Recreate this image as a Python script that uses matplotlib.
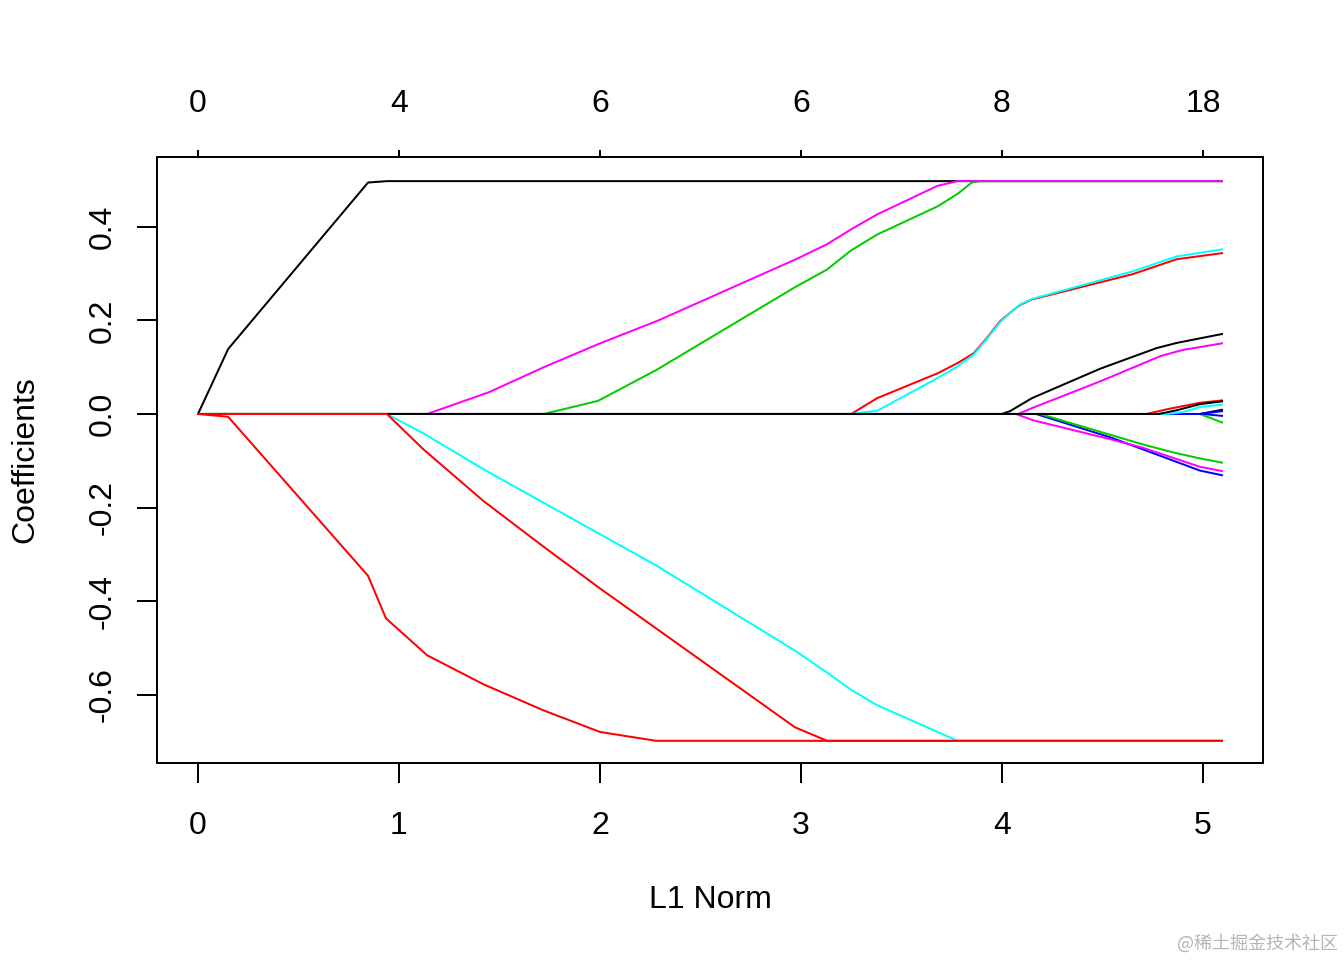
import matplotlib
matplotlib.use("Agg")
import matplotlib.pyplot as plt

plt.rcParams['font.family'] = ['Liberation Sans', 'DejaVu Sans']
plt.rcParams['axes.unicode_minus'] = False

# coefficient paths: L1 norm (x) vs coefficient (y)
black_top_x = [0, 0.15, 0.846, 0.94, 5.095]
black_top_y = [0, 0.139, 0.495, 0.498, 0.498]

red_low1_x = [0, 0.15, 0.846, 0.935, 1.14, 1.42, 1.72, 2.0, 2.28, 5.095]
red_low1_y = [0, -0.006, -0.346, -0.437, -0.516, -0.578, -0.634, -0.68, -0.699, -0.699]

green_top_x = [0, 1.72, 1.99, 2.28, 2.97, 3.13, 3.25, 3.38, 3.68, 3.78, 3.85, 3.89, 5.095]
green_top_y = [0, 0, 0.028, 0.094, 0.271, 0.309, 0.35, 0.384, 0.444, 0.471, 0.495, 0.498, 0.498]

blue_low_x = [0, 4.17, 4.54, 4.785, 4.985, 5.095]
blue_low_y = [0, 0, -0.05, -0.089, -0.121, -0.131]

cyan_low_x = [0, 0.94, 1.12, 1.42, 1.72, 2.28, 2.97, 3.13, 3.25, 3.38, 3.78, 5.095]
cyan_low_y = [0, 0, -0.041, -0.118, -0.19, -0.324, -0.506, -0.553, -0.59, -0.623, -0.699, -0.699]

magenta_top_x = [0, 1.14, 1.45, 1.72, 2.0, 2.29, 2.97, 3.13, 3.25, 3.38, 3.68, 3.78, 5.095]
magenta_top_y = [0, 0, 0.047, 0.1, 0.151, 0.2, 0.33, 0.363, 0.395, 0.427, 0.488, 0.498, 0.498]

black_mid_x = [0, 4.0, 4.04, 4.15, 4.49, 4.77, 4.87, 5.095]
black_mid_y = [0, 0, 0.006, 0.034, 0.097, 0.141, 0.152, 0.171]

red_mid_x = [0, 3.25, 3.38, 3.68, 3.78, 3.86, 3.92, 3.99, 4.05, 4.09, 4.15, 4.65, 4.87, 5.095]
red_mid_y = [0, 0, 0.034, 0.087, 0.109, 0.13, 0.16, 0.198, 0.22, 0.233, 0.245, 0.299, 0.331, 0.344]

green_low_x = [0, 4.19, 4.70, 4.85, 4.985, 5.095]
green_low_y = [0, 0, -0.065, -0.082, -0.095, -0.104]

blue_small_neg_x = [0, 5.0, 5.095]
blue_small_neg_y = [0, 0, -0.004]

cyan_mid_x = [0, 3.25, 3.38, 3.68, 3.78, 3.86, 3.92, 3.99, 4.05, 4.09, 4.15, 4.65, 4.87, 5.095]
cyan_mid_y = [0, 0, 0.007, 0.077, 0.102, 0.127, 0.158, 0.196, 0.22, 0.234, 0.246, 0.305, 0.337, 0.352]

magenta_mid_x = [0, 4.08, 4.155, 4.49, 4.79, 4.9, 5.095]
magenta_mid_y = [0, 0, 0.0135, 0.07, 0.124, 0.137, 0.151]

black_small2_x = [0, 4.985, 5.095]
black_small2_y = [0, 0, 0.009]

red_small_x = [0, 4.72, 4.82, 4.985, 5.095]
red_small_y = [0, 0, 0.01, 0.024, 0.029]

green_small_x = [0, 4.985, 5.095]
green_small_y = [0, 0, -0.018]

blue_small_pos_x = [0, 4.985, 5.095]
blue_small_pos_y = [0, 0, 0.006]

cyan_small_x = [0, 4.82, 4.9, 4.985, 5.095]
cyan_small_y = [0, 0, 0.004, 0.015, 0.02]

magenta_low_x = [0, 4.07, 4.155, 4.54, 4.70, 4.985, 5.095]
magenta_low_y = [0, 0, -0.0135, -0.054, -0.072, -0.113, -0.122]

black_small_x = [0, 4.78, 4.87, 4.985, 5.095]
black_small_y = [0, 0, 0.008, 0.021, 0.027]

red_low2_x = [0, 0.94, 1.12, 1.42, 1.72, 2.0, 2.97, 3.13, 5.095]
red_low2_y = [0, 0, -0.075, -0.186, -0.284, -0.373, -0.67, -0.699, -0.699]

# number of nonzero coefficients shown on the top axis
top_ticks = [0, 1, 2, 3, 4, 5]
top_labels = ['0', '4', '6', '6', '8', '18']
y_ticks = [-0.6, -0.4, -0.2, 0.0, 0.2, 0.4]

# R default palette, drawn in this order (later on top)
paths = [
    (black_top_x, black_top_y, 'black'),
    (red_low1_x, red_low1_y, 'red'),
    (green_top_x, green_top_y, '#00CD00'),
    (blue_low_x, blue_low_y, 'blue'),
    (cyan_low_x, cyan_low_y, 'cyan'),
    (magenta_top_x, magenta_top_y, 'magenta'),
    (black_mid_x, black_mid_y, 'black'),
    (red_mid_x, red_mid_y, 'red'),
    (green_low_x, green_low_y, '#00CD00'),
    (blue_small_neg_x, blue_small_neg_y, 'blue'),
    (cyan_mid_x, cyan_mid_y, 'cyan'),
    (magenta_mid_x, magenta_mid_y, 'magenta'),
    (black_small2_x, black_small2_y, 'black'),
    (red_small_x, red_small_y, 'red'),
    (green_small_x, green_small_y, '#00CD00'),
    (blue_small_pos_x, blue_small_pos_y, 'blue'),
    (cyan_small_x, cyan_small_y, 'cyan'),
    (magenta_low_x, magenta_low_y, 'magenta'),
    (black_small_x, black_small_y, 'black'),
    (red_low2_x, red_low2_y, 'red'),
]

fig = plt.figure(figsize=(13.44, 9.6), dpi=100)
ax = fig.add_axes([157/1344, 1 - 763/960, (1263-157)/1344, (763-157)/960])

lw = 1.44  # 2 px
for xs, ys, c in paths:
    ax.plot(xs, ys, color=c, lw=lw)

# R style 4% padding (zero kept on a pixel boundary)
ax.set_xlim(-0.204, 5.299)
ax.set_ylim(-0.7464, 0.5496)

for s in ax.spines.values():
    s.set_linewidth(lw)

fs = 23
ax.set_xticks(top_ticks)
ax.set_xticklabels([str(t) for t in top_ticks])
ax.set_yticks(y_ticks)
ax.set_yticklabels(['%.1f' % v for v in y_ticks], rotation=90, va='center')
ax.tick_params(axis='x', direction='out', length=14.4, width=lw, pad=20, labelsize=fs)
ax.tick_params(axis='y', direction='out', length=14.4, width=lw, pad=14, labelsize=fs)

top = ax.secondary_xaxis('top')
top.set_xticks(top_ticks)
top.set_xticklabels(top_labels)
top.tick_params(direction='out', length=4.8, width=lw, pad=22.5, labelsize=fs)
top.spines['top'].set_visible(False)

ax.set_xlabel('L1 Norm', fontsize=fs, va='center')
ax.xaxis.set_label_coords(0.5, (763 - 900) / 606)
ax.set_ylabel('Coefficients', fontsize=fs, va='center')
ax.yaxis.set_label_coords((25 - 157) / 1106, 0.5)

fig.text(1338/1344, 1 - 943/960, '@稀土掘金技术社区', ha='right', va='center',
         fontsize=13, color='#b5b5b5',
         family=['Noto Sans CJK SC', 'DejaVu Sans'])

plt.savefig("out.png", dpi=100)
